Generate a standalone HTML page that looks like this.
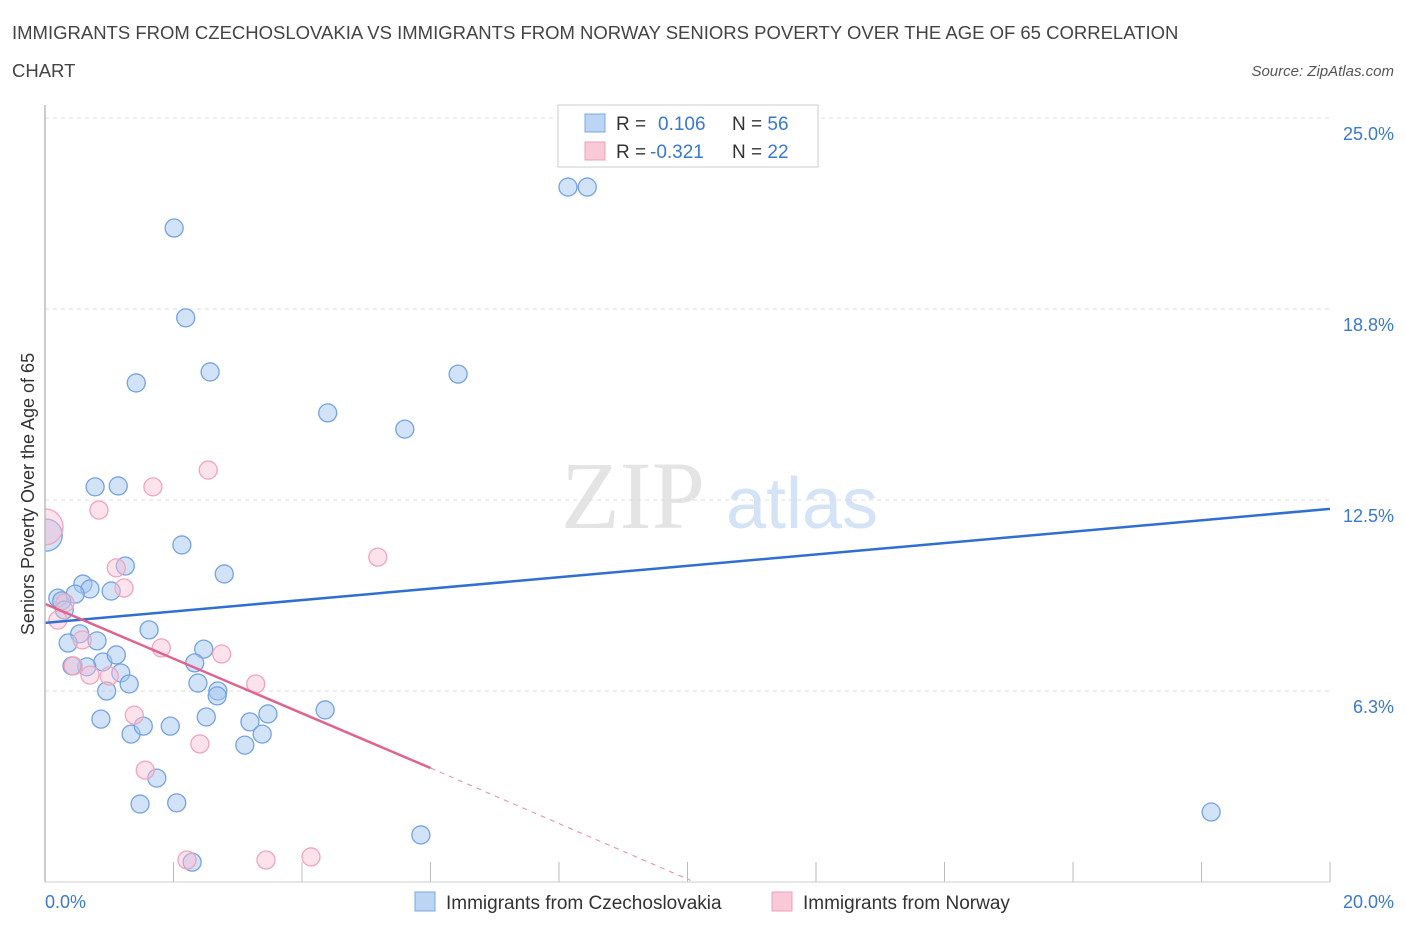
<!DOCTYPE html>
<html><head><meta charset="utf-8"><style>
body{margin:0;background:#fff;font-family:"Liberation Sans",sans-serif}
</style></head><body>
<svg width="1406" height="930" viewBox="0 0 1406 930">
<defs><clipPath id="plotclip"><rect x="45" y="100" width="1300" height="782"/></clipPath></defs>
<text x="12" y="39" font-size="18.5" fill="#444">IMMIGRANTS FROM CZECHOSLOVAKIA VS IMMIGRANTS FROM NORWAY SENIORS POVERTY OVER THE AGE OF 65 CORRELATION</text>
<text x="12" y="77" font-size="18.5" fill="#444">CHART</text>
<text x="1394" y="76" font-size="15" fill="#555" font-style="italic" text-anchor="end">Source: ZipAtlas.com</text>
<text x="633" y="528" font-size="96" fill="#e4e4e4" font-family="Liberation Serif,serif" text-anchor="middle">ZIP</text>
<text x="802" y="528" font-size="72" fill="#d4e3f5" text-anchor="middle">atlas</text>
<g id="grid"></g>
<g id="pts" clip-path="url(#plotclip)"></g>
<g id="lines"></g>
<line x1="45" y1="105" x2="45" y2="882" stroke="#bbb" stroke-width="1.5"/>
<line x1="45" y1="882" x2="1330" y2="882" stroke="#ccc"/>
<text transform="translate(34,494) rotate(-90)" font-size="18" fill="#333" text-anchor="middle">Seniors Poverty Over the Age of 65</text>
<text x="45" y="908" font-size="18" fill="#3a78d0">0.0%</text>
<text x="1394" y="908" font-size="18" fill="#3a78d0" text-anchor="end">20.0%</text>
<g>
<rect x="558" y="105" width="260" height="62" fill="#fff" stroke="#ccc"/>
<rect x="585" y="114" width="20" height="18" fill="#bcd5f5" stroke="#7aa8e0"/>
<rect x="585" y="142" width="20" height="18" fill="#f9c9d8" stroke="#eea0b8"/>
<text x="616" y="130" font-size="19" fill="#333">R = <tspan fill="#3a78d0" x="658">0.106</tspan><tspan x="732">N = </tspan><tspan fill="#3a78d0">56</tspan></text>
<text x="616" y="158" font-size="19" fill="#333">R = <tspan fill="#3a78d0" x="650">-0.321</tspan><tspan x="732">N = </tspan><tspan fill="#3a78d0">22</tspan></text>
</g>
<g>
<rect x="415" y="892" width="20" height="19" fill="#bcd5f5" stroke="#7aa8e0"/>
<text x="446" y="909" font-size="19" fill="#333">Immigrants from Czechoslovakia</text>
<rect x="772" y="892" width="20" height="19" fill="#f9c9d8" stroke="#eea0b8"/>
<text x="803" y="909" font-size="19" fill="#333">Immigrants from Norway</text>
</g>
</svg>
<script>
const yTicks=[6.25,12.5,18.75,25];
const yTickLabels=["6.3%","12.5%","18.8%","25.0%"];
const xTicks=[0,2,4,6,8,10,12,14,16,18,20];
const blueX=[2.01,2.19,1.42,2.57,4.40,5.60,6.43,8.14,8.44,0.78,1.14,2.13,2.79,1.25,0.59,0.70,1.03,0.47,0.20,0.26,0.30,1.62,0.54,0.36,0.81,0.90,1.11,0.65,0.42,1.18,1.31,0.96,2.47,2.33,2.38,2.69,2.68,0.87,1.34,1.53,1.95,2.51,3.19,3.38,3.47,3.11,4.36,1.74,1.48,2.05,5.85,2.29,18.15,0.02];
const blueY=[21.40,18.46,16.33,16.69,15.35,14.82,16.62,22.74,22.74,12.93,12.96,11.03,10.08,10.34,9.75,9.59,9.52,9.42,9.29,9.20,8.90,8.25,8.12,7.82,7.89,7.20,7.43,7.04,7.07,6.84,6.48,6.25,7.62,7.17,6.51,6.25,6.09,5.33,4.84,5.10,5.10,5.40,5.24,4.84,5.50,4.48,5.63,3.40,2.55,2.59,1.54,0.65,2.29,11.35];
const blueR=[9,9,9,9,9,9,9,9,9,9,9,9,9,9,9,9,9,9,9,9,9,9,9,9,9,9,9,9,9,9,9,9,9,9,9,9,9,9,9,9,9,9,9,9,9,9,9,9,9,9,9,9,9,16];
const pinkX=[2.54,1.68,0.84,5.18,1.11,1.23,0.20,0.58,0.44,1.81,0.70,1.00,2.75,3.28,1.39,2.41,1.56,2.21,3.44,4.14,0.31,0.0];
const pinkY=[13.48,12.93,12.17,10.63,10.28,9.62,8.57,7.92,7.07,7.66,6.77,6.74,7.46,6.48,5.46,4.52,3.66,0.72,0.72,0.82,9.13,11.62];
const pinkR=[9,9,9,9,9,9,9,9,9,9,9,9,9,9,9,9,9,9,9,9,9,18];
const blueLine=[8.48,12.21];
const pinkLine=[9.10,3.73];
const pinkLineEnd=[6.0,10.05,0.05];
const X=v=>45+v/20*1285, Y=v=>882-v/25*764;
const NS="http://www.w3.org/2000/svg";
function mk(tag,attrs,parent){const e=document.createElementNS(NS,tag);for(const k in attrs)e.setAttribute(k,attrs[k]);document.getElementById(parent).appendChild(e);return e;}
yTicks.forEach((t,i)=>{
 const l=mk('line',{x1:45,x2:1330,y1:Y(t),y2:Y(t),stroke:'#ddd','stroke-dasharray':'4,4'},'grid');
 
 
 const tx=mk('text',{x:1394,y:Y(t)+22,'font-size':18,fill:'#3a78d0','text-anchor':'end'},'grid');
 tx.textContent=yTickLabels[i];
 
 
});
xTicks.forEach(t=>{
 const l=mk('line',{x1:X(t),x2:X(t),y1:862,y2:882,stroke:'#bbb'},'grid');
 
 
});
blueX.forEach((x,i)=>{
 const c=mk('circle',{cx:X(x),cy:Y(blueY[i]),r:blueR[i],fill:'rgba(165,198,240,0.5)',stroke:'#74a3e2','stroke-width':1.3},'pts');
 
 
});
pinkX.forEach((x,i)=>{
 const c=mk('circle',{cx:X(x),cy:Y(pinkY[i]),r:pinkR[i],fill:'rgba(248,190,210,0.45)',stroke:'#f0a4bd','stroke-width':1.3},'pts');
 
 
});
const bl=mk('line',{x1:X(0),y1:Y(blueLine[0]),x2:X(20),y2:Y(blueLine[1]),stroke:'#2f6fd0','stroke-width':2.5},'lines');


const pl=mk('line',{x1:X(0),y1:Y(pinkLine[0]),x2:X(pinkLineEnd[0]),y2:Y(pinkLine[1]),stroke:'#e0628e','stroke-width':2.5},'lines');


const pd=mk('line',{x1:X(pinkLineEnd[0]),y1:Y(pinkLine[1]),x2:X(pinkLineEnd[1]),y2:Y(pinkLineEnd[2]),stroke:'#e88aaa','stroke-width':1,'stroke-dasharray':'5,5'},'lines');


</script>
</body></html>
